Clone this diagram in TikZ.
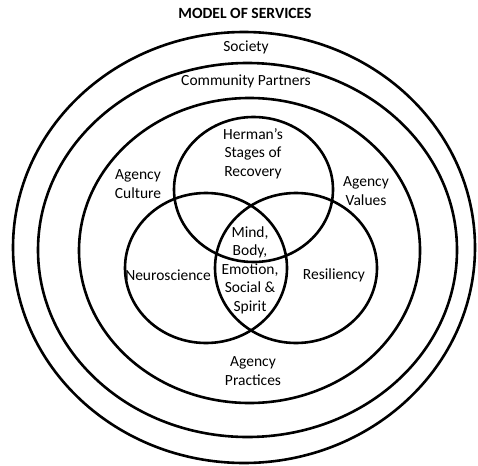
\documentclass[tikz,border=0pt]{standalone}
\usepackage{fontspec}
\setmainfont{Carlito}

\begin{document}
\begin{tikzpicture}[x=1pt,y=-1pt]

\tikzset{
  ring/.style={line width=2.6pt},
  lbl/.style={align=center, inner sep=0pt, font=\fontsize{15.5}{18.5}\selectfont}
}

\useasboundingbox (0,0) rectangle (478,465);

% nested rings
\draw[ring] (244,247.5) ellipse (231pt and 215.5pt);   % society
\draw[ring] (247.5,250) ellipse (209.5pt and 187pt);   % community
\draw[ring] (249.5,250.5) ellipse (170.5pt and 152.5pt); % agency

% three overlapping circles
\draw[ring] (253.5,189.5) ellipse (79.5pt and 72.5pt); % recovery
\draw[ring] (206,268) ellipse (81pt and 75pt);         % neuroscience
\draw[ring] (296,268) ellipse (81pt and 75pt);         % resiliency

\node[font=\bfseries\fontsize{15.6}{18}\selectfont] (title) at (245,13) {MODEL OF SERVICES};

\node[lbl] (society) at (246,47) {Society};
\node[lbl] (partners) at (246,81) {Community Partners};
\node[lbl] (culture) at (138,184) {Agency\\Culture};
\node[lbl] (values) at (366,191) {Agency\\Values};
\node[lbl] (practices) at (253,371) {Agency\\Practices};
\node[lbl] (herman) at (253,153.5) {Herman’s\\Stages of\\Recovery};
\node[lbl] (neuro) at (168,275) {Neuroscience};
\node[lbl] (resil) at (334,275) {Resiliency};
\node[lbl] (mind) at (250,270) {Mind,\\Body,\\Emotion,\\Social \&\\Spirit};

\end{tikzpicture}
\end{document}
